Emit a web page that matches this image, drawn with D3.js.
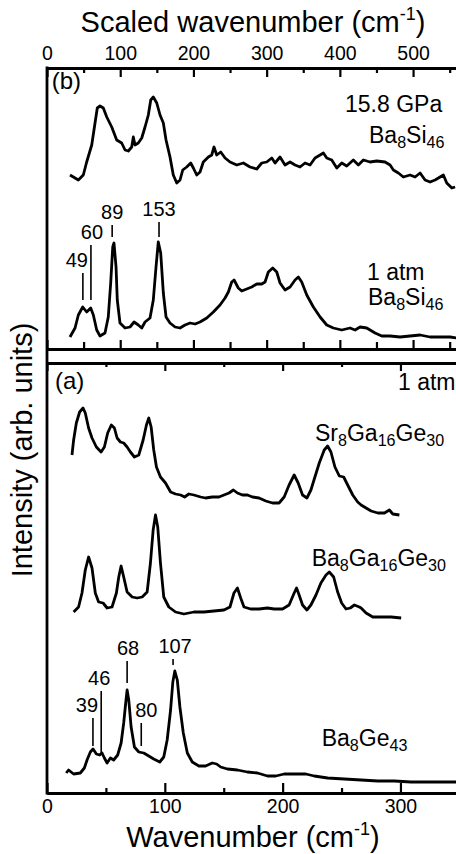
<!DOCTYPE html>
<meta charset="utf-8">
<script src="https://d3js.org/d3.v7.min.js"></script>
<style>
  body { margin: 0; background: #fff; }
  svg text { font-family: "Liberation Sans", Arial, Helvetica, sans-serif; fill: #000; }
</style>
<div id="chart"></div>
<script>

// ---- data (wavenumber in cm-1, intensity in arb. units incl. vertical offset) ----

// panel (b): Ba8Si46, plotted against the scaled (top) axis
var si46_158GPa = [
  [31.4,17.4],[42.8,16.9],[49.6,17.4],[54.2,18.7],[61.1,20.4],[65.6,22.6],[68.7,24.1],[72.4,24.3],
  [76.9,24.1],[81.6,23.2],[88.4,22.2],[95.2,20.9],[102.0,20.6],[106.6,19.9],[111.1,19.8],[115.7,20.2],
  [117.9,21.2],[120.2,20.4],[124.7,20.6],[129.4,21.1],[133.9,22.2],[138.4,23.4],[141.7,24.9],[145.2,25.2],
  [149.9,24.6],[154.4,23.4],[158.9,22.6],[162.6,20.9],[168.0,19.2],[172.5,17.4],[177.2,16.6],[181.7,16.9],
  [185.4,17.9],[190.8,18.2],[196.3,18.6],[199.9,18.1],[204.5,17.4],[209.0,17.7],[213.5,18.7],[220.4,19.2],
  [225.0,19.4],[228.1,20.2],[231.8,19.4],[237.3,19.7],[243.2,19.1],[250.0,18.7],[259.2,18.4],[268.2,18.6],
  [277.3,18.2],[286.5,18.0],[293.3,18.6],[300.1,18.7],[307.0,19.1],[311.5,18.6],[318.3,19.2],[325.1,18.4],
  [332.0,18.7],[338.8,18.4],[345.6,18.2],[352.5,18.6],[359.3,18.4],[366.1,19.1],[373.0,19.4],[377.5,19.6],
  [382.1,19.1],[388.9,18.9],[395.8,18.1],[402.6,18.6],[409.4,18.3],[418.4,18.9],[425.3,18.4],[432.1,18.9],
  [441.3,18.7],[450.4,18.8],[461.7,18.7],[468.6,18.4],[473.1,17.9],[479.9,17.6],[486.7,17.2],[495.9,17.4],
  [502.7,17.2],[509.6,17.6],[516.4,16.9],[523.2,16.7],[530.1,16.9],[536.9,17.2],[541.4,17.4],[546.0,16.6],
  [552.9,16.1],[557.4,16.2]
];

var si46_1atm = [
  [31.4,1.2],[38.3,2.1],[42.8,3.4],[48.8,4.2],[54.2,3.7],[59.7,4.1],[63.3,3.4],[67.9,1.9],
  [72.4,1.3],[79.2,1.6],[83.7,3.2],[87.0,6.6],[89.8,10.2],[91.5,10.6],[94.3,8.2],[96.0,4.9],
  [99.7,2.6],[106.6,2.1],[113.4,2.2],[118.9,2.7],[124.7,2.4],[129.4,2.1],[133.9,2.7],[140.7,3.1],
  [145.2,4.9],[148.9,8.2],[152.0,10.7],[155.3,9.6],[158.9,5.6],[162.6,3.2],[168.0,2.6],[174.9,2.2],
  [181.7,2.1],[188.5,2.4],[195.4,2.6],[202.2,2.5],[209.0,2.7],[218.2,3.1],[227.2,3.7],[236.3,4.4],
  [243.2,5.1],[247.7,5.7],[252.3,6.7],[255.5,6.9],[261.3,6.1],[266.0,5.8],[272.8,6.0],[279.6,6.2],
  [286.5,6.5],[293.3,6.5],[297.8,6.7],[302.3,7.7],[308.3,8.1],[313.8,7.7],[318.3,6.6],[325.1,5.9],
  [332.0,6.2],[338.8,6.9],[343.3,7.2],[347.9,6.7],[354.8,5.4],[363.8,4.2],[373.0,3.2],[382.1,2.4],
  [391.1,2.1],[402.6,1.9],[413.9,2.1],[420.8,1.9],[427.6,2.2],[436.7,2.1],[448.1,1.6],[457.2,1.3],
  [468.6,1.3],[482.2,1.2],[495.9,1.3],[509.6,1.4],[523.2,1.2],[536.9,1.2],[550.5,1.2],[559.7,1.1]
];

// panel (a): 1 atm, plotted against the wavenumber (bottom) axis
var sr8ga16ge30 = [
  [21.2,33.8],[22.6,35.3],[24.9,37.0],[27.7,38.1],[30.6,38.5],[32.5,38.0],[35.3,36.5],[38.2,35.5],
  [41.9,34.6],[45.9,34.1],[48.7,34.6],[51.5,36.0],[54.6,36.8],[57.2,36.5],[59.5,35.5],[62.3,35.1],
  [65.1,35.0],[68.0,34.6],[70.8,34.1],[74.2,33.6],[77.9,33.8],[81.6,35.3],[84.4,36.8],[86.4,37.5],
  [88.4,36.6],[90.6,34.3],[92.9,32.6],[96.3,31.6],[100.6,31.0],[104.9,30.1],[109.1,29.9],[113.4,29.8],
  [116.8,29.6],[120.4,29.9],[124.7,29.8],[130.4,29.6],[134.6,29.5],[140.3,29.6],[146.0,29.6],[150.2,29.8],
  [154.5,30.0],[158.2,30.3],[161.6,30.0],[165.9,29.8],[170.1,29.8],[174.4,29.6],[180.0,29.5],[185.7,29.2],
  [191.4,29.0],[197.0,29.0],[201.3,29.6],[205.5,30.8],[209.8,31.8],[213.2,31.0],[216.9,29.8],[220.6,29.5],
  [224.0,30.3],[227.4,31.6],[231.1,33.0],[235.3,34.3],[238.2,34.7],[241.0,34.1],[244.4,32.6],[248.1,31.7],
  [251.8,31.6],[255.2,30.8],[259.5,29.8],[263.7,29.1],[266.6,28.8],[269.4,28.6],[275.1,28.2],[280.8,28.0],
  [286.4,28.0],[290.6,28.3],[293.5,27.9],[299.1,27.8]
];

var ba8ga16ge30 = [
  [22.6,18.1],[26.8,18.6],[29.7,20.0],[32.5,22.3],[35.3,23.6],[38.2,22.5],[41.0,20.0],[43.8,19.1],
  [47.6,19.0],[51.0,18.5],[55.2,18.6],[58.9,20.0],[60.9,21.6],[62.9,22.7],[65.1,21.6],[68.0,20.1],
  [72.3,19.6],[76.5,19.5],[80.8,19.6],[85.0,20.1],[87.8,23.0],[90.1,26.3],[92.1,27.8],[94.0,26.6],
  [96.3,23.0],[99.1,19.6],[103.4,18.6],[109.1,18.1],[116.2,17.9],[124.7,18.1],[133.2,18.1],[141.7,18.2],
  [150.2,18.3],[155.3,18.6],[158.7,20.0],[161.6,20.5],[164.4,19.5],[167.2,18.6],[172.9,18.4],[180.0,18.4],
  [187.1,18.5],[192.8,18.4],[199.9,18.4],[205.5,18.8],[209.8,20.0],[211.8,20.5],[214.0,19.8],[216.9,18.8],
  [220.6,18.3],[224.0,18.8],[228.3,19.8],[232.5,21.0],[236.8,21.8],[239.6,22.1],[243.3,21.6],[246.7,20.1],
  [250.1,19.0],[253.8,18.4],[257.4,18.5],[260.9,18.8],[265.1,18.6],[266.6,18.5],[270.8,18.0],[276.5,17.6],
  [283.6,17.6],[292.1,17.6],[300.6,17.5]
];

var ba8ge43 = [
  [16.3,2.0],[18.3,2.3],[22.6,1.9],[28.3,2.0],[31.7,2.5],[34.0,3.3],[36.8,4.1],[39.1,4.4],
  [41.9,3.9],[44.7,3.8],[46.7,4.0],[48.7,3.5],[51.0,3.0],[53.8,3.5],[56.6,3.3],[60.0,3.8],
  [62.9,5.0],[65.1,7.0],[66.8,9.0],[68.0,10.3],[69.4,9.3],[71.4,6.6],[74.2,4.6],[77.9,4.1],
  [82.1,4.0],[86.4,3.7],[90.6,3.4],[95.7,3.1],[99.1,3.6],[102.0,5.3],[104.9,8.3],[106.8,11.1],
  [108.5,12.2],[110.6,11.3],[112.8,8.6],[115.7,6.0],[119.1,4.0],[123.3,3.1],[128.9,2.7],[134.6,2.7],
  [140.3,3.0],[144.0,2.9],[147.4,2.6],[153.1,2.4],[161.6,2.3],[170.1,2.1],[178.6,2.0],[187.1,1.7],
  [194.2,1.7],[201.3,1.9],[209.8,1.9],[219.7,1.9],[226.8,1.7],[238.2,1.5],[252.3,1.4],[266.6,1.3],
  [280.8,1.2],[294.9,1.2],[308.9,1.1],[323.3,1.1],[337.4,1.1],[348.8,1.1]
];

// peak markers: [wavenumber, line bottom, line top, label]
var peaksB = [[49, 4.9, 7.6, "49"], [60, 4.9, 10.4, "60"], [89, 11.2, 12.4, "89"], [153, 11.2, 12.7, "153"]];
var peaksA = [[39, 4.7, 7.5, "39"], [46, 3.8, 10.2, "46"], [68, 11.0, 13.2, "68"], [80, 4.7, 7.0, "80"], [107, 12.8, 13.4, "107"]];

var topTicks = [0, 100, 200, 300, 400, 500];
var bottomTicks = [0, 100, 200, 300];

// ---- layout ----
var width = 456, height = 854;
var left = 47, right = 457;
var bTop = 68, bBottom = 349, aTop = 363, aBottom = 793;

var svg = d3.select("#chart").append("svg")
  .attr("width", width)
  .attr("height", height);

var xTop = d3.scaleLinear().domain([0, 560]).range([left, right]);
var xBot = d3.scaleLinear().domain([0, 348]).range([left, right]);
var yB = d3.scaleLinear().domain([0, 28.1]).range([bBottom, bTop]);
var yA = d3.scaleLinear().domain([0, 43]).range([aBottom, aTop]);

// axis helper: major ticks with optional labels + minor ticks
function drawAxis(axisFn, scale, y, major, minor, majLen, minLen, labels, pad) {
  var g = svg.append("g").attr("transform", "translate(0," + y + ")");
  g.call(axisFn(scale).tickValues(minor).tickSizeInner(-minLen).tickSizeOuter(0).tickFormat(""));
  var g2 = svg.append("g").attr("transform", "translate(0," + y + ")");
  g2.call(axisFn(scale).tickValues(major).tickSizeInner(-majLen).tickSizeOuter(0)
    .tickPadding(pad).tickFormat(labels ? d3.format("d") : ""));
  [g, g2].forEach(function(s) {
    s.select(".domain").attr("stroke", "#000").attr("stroke-width", 2.8);
    s.selectAll(".tick line").attr("stroke", "#000").attr("stroke-width", 2.2);
    s.selectAll(".tick text").style("font-size", "19.5px").attr("fill", "#000");
  });
  return g2;
}

var minorTop = [50, 150, 250, 350, 450, 550];
var minorBot = [50, 150, 250];

drawAxis(d3.axisTop, xTop, bTop, topTicks, minorTop, 9, 5, true, 8);
drawAxis(d3.axisBottom, xTop, bBottom, topTicks, minorTop, 9, 7, false, 0);
drawAxis(d3.axisTop, xBot, aTop, bottomTicks, minorBot, 8, 4, false, 0);
drawAxis(d3.axisBottom, xBot, aBottom, bottomTicks, minorBot, 10, 5, true, 6.5);

// left frame line, continuous through both panels
svg.append("line")
  .attr("x1", left).attr("x2", left)
  .attr("y1", bTop - 1.4).attr("y2", aBottom + 1.4)
  .attr("stroke", "#000").attr("stroke-width", 2.8);

// spectra
function drawSpectrum(data, x, y) {
  svg.append("path")
    .datum(data)
    .attr("fill", "none")
    .attr("stroke", "#000")
    .attr("stroke-width", 2.8)
    .attr("stroke-linejoin", "round")
    .attr("d", d3.line().x(function(d) { return x(d[0]); }).y(function(d) { return y(d[1]); }));
}
drawSpectrum(si46_158GPa, xTop, yB);
drawSpectrum(si46_1atm, xTop, yB);
drawSpectrum(sr8ga16ge30, xBot, yA);
drawSpectrum(ba8ga16ge30, xBot, yA);
drawSpectrum(ba8ge43, xBot, yA);

// peak markers
function drawPeaks(peaks, x, y, dxs) {
  peaks.forEach(function(p, i) {
    svg.append("line")
      .attr("x1", x(p[0])).attr("x2", x(p[0]))
      .attr("y1", y(p[1])).attr("y2", y(p[2]))
      .attr("stroke", "#000").attr("stroke-width", 1.6);
    svg.append("text")
      .attr("x", x(p[0]) + dxs[i])
      .attr("y", y(p[2]) - 6)
      .attr("text-anchor", "middle")
      .style("font-size", "20px")
      .text(p[3]);
  });
}
drawPeaks(peaksB, xTop, yB, [-6, 1, 0, 0]);
drawPeaks(peaksA, xBot, yA, [-6, -2, 1, 5, 2]);

// text with {subscripts}
function formula(x, y, str, size) {
  var t = svg.append("text").attr("x", x).attr("y", y).style("font-size", size + "px");
  var re = /([^{}]+)|\{([^}]+)\}/g, m, shifted = false;
  while ((m = re.exec(str)) !== null) {
    if (m[1]) {
      t.append("tspan").attr("dy", shifted ? -5 : 0).text(m[1]);
      shifted = false;
    } else {
      t.append("tspan").attr("dy", shifted ? 0 : 5).style("font-size", (size * 0.7) + "px").text(m[2]);
      shifted = true;
    }
  }
  return t;
}

formula(345, 111.7, "15.8 GPa", 23);
formula(369, 143, "Ba{8}Si{46}", 23);
formula(367, 280, "1 atm", 23);
formula(368, 305, "Ba{8}Si{46}", 23);
formula(398, 390, "1 atm", 23);
formula(315, 441, "Sr{8}Ga{16}Ge{30}", 23);
formula(311.7, 566, "Ba{8}Ga{16}Ge{30}", 23);
formula(321.7, 746, "Ba{8}Ge{43}", 23);

formula(51.7, 89, "(b)", 24);
formula(55, 389, "(a)", 24);

// axis titles
function unitTitle(x, y, label) {
  var t = svg.append("text").attr("x", x).attr("y", y)
    .attr("text-anchor", "middle").style("font-size", "29px");
  t.append("tspan").text(label + " (cm");
  t.append("tspan").attr("dy", -12).style("font-size", "18px").text("-1");
  t.append("tspan").attr("dy", 12).text(")");
}
unitTitle(253, 31.5, "Scaled wavenumber");
unitTitle(253, 846.5, "Wavenumber");

svg.append("text")
  .attr("transform", "translate(32,450) rotate(-90)")
  .attr("text-anchor", "middle")
  .style("font-size", "29px")
  .text("Intensity (arb. units)");

</script>
